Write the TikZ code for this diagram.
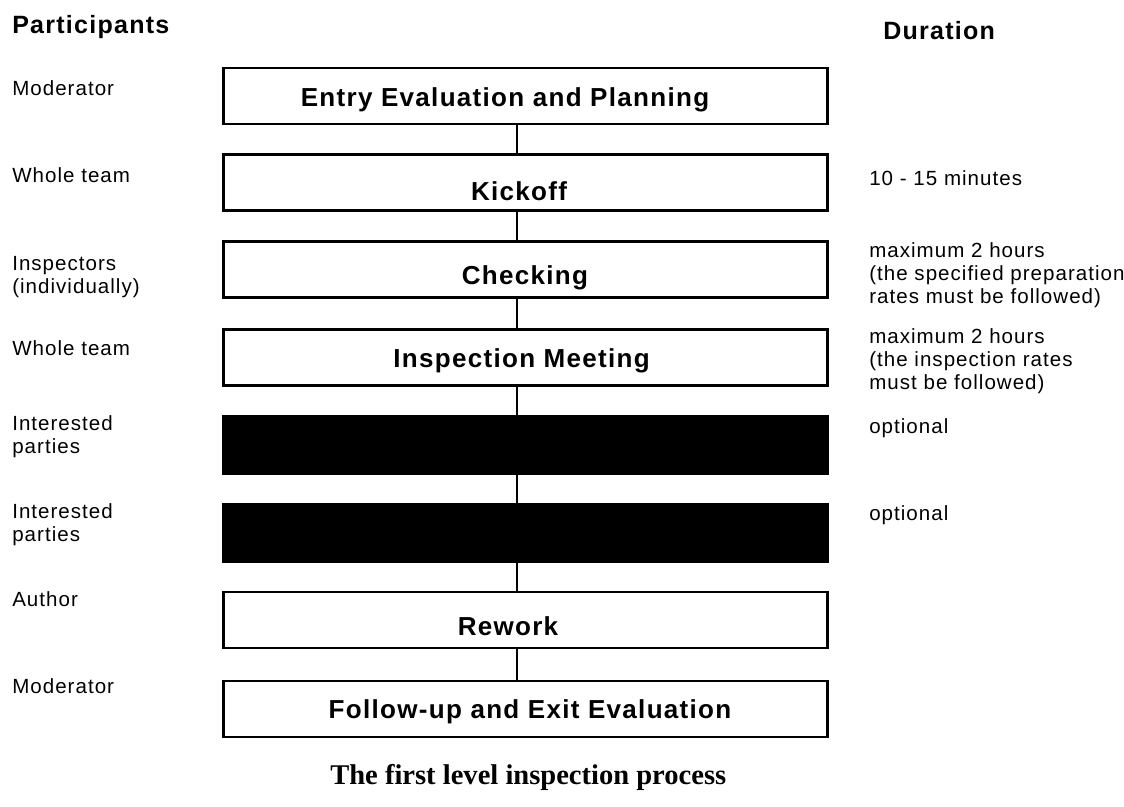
\documentclass[tikz,border=0pt]{standalone}
\usepackage{fontspec}
\setmainfont{Liberation Sans}[LetterSpace=5]
\newfontfamily\captionfont{Liberation Serif}

\tikzset{
    stage/.style={draw, line width=2pt, fill=white, minimum width=15.1cm, minimum height=1.4cm, inner sep=0pt},
    hidden stage/.style={stage, fill=black, minimum height=1.45cm},
    stagetext/.style={font=\fontsize{18.5}{22}\selectfont\bfseries, text height=13.3pt, text depth=0pt, inner sep=0pt},
    heading/.style={font=\fontsize{17.8}{21}\selectfont\bfseries, anchor=base west, inner sep=0pt},
    who/.style={font=\fontsize{14.6}{16.6}\selectfont, align=left, anchor=north west, inner sep=0pt},
    link/.style={line width=2pt},
}

\begin{document}
\begin{tikzpicture}[x=0.025cm, y=-0.025cm]
    \useasboundingbox (0,0) rectangle (1124,807);

    % column heads
    \node[heading] (participants) at (12,34) {Participants};
    \node[heading] (duration) at (883,40) {Duration};

    % the stages, top to bottom
    \node[stage] (entry) at (525.5,96) {};
    \node[stage] (kickoff) at (525.5,182.5) {};
    \node[stage] (checking) at (525.5,269.5) {};
    \node[stage] (meeting) at (525.5,357.5) {};
    \node[hidden stage] (hidden1) at (525.5,445) {};
    \node[hidden stage] (hidden2) at (525.5,533) {};
    \node[stage] (rework) at (525.5,620) {};
    \node[stage] (followup) at (525.5,709) {};

    \node[stagetext] (entrytxt) at (505,97) {Entry Evaluation and Planning};
    \node[stagetext] (kickofftxt) at (519,191) {Kickoff};
    \node[stagetext] (checkingtxt) at (525,275.5) {Checking};
    \node[stagetext] (meetingtxt) at (521.6,358.5) {Inspection Meeting};
    \node[stagetext] (reworktxt) at (508,626.5) {Rework};
    \node[stagetext] (followuptxt) at (530,709) {Follow-up and Exit Evaluation};

    % links between stages
    \draw[link] ([xshift=-6pt]entry.south) -- ([xshift=-6pt]kickoff.north);
    \draw[link] ([xshift=-6pt]kickoff.south) -- ([xshift=-6pt]checking.north);
    \draw[link] ([xshift=-6pt]checking.south) -- ([xshift=-6pt]meeting.north);
    \draw[link] ([xshift=-6pt]meeting.south) -- ([xshift=-6pt]hidden1.north);
    \draw[link] ([xshift=-6pt]hidden1.south) -- ([xshift=-6pt]hidden2.north);
    \draw[link] ([xshift=-6pt]hidden2.south) -- ([xshift=-6pt]rework.north);
    \draw[link] ([xshift=-6pt]rework.south) -- ([xshift=-6pt]followup.north);

    % who takes part
    \node[who] (who1) at (12,80) {Moderator};
    \node[who] (who2) at (12,167) {Whole team};
    \node[who] (who3) at (12,256) {Inspectors\\(individually)};
    \node[who] (who4) at (12,340) {Whole team};
    \node[who] (who5) at (12,415) {Interested\\parties};
    \node[who] (who6) at (12,503) {Interested\\parties};
    \node[who] (who7) at (12,591) {Author};
    \node[who] (who8) at (12,678) {Moderator};

    % how long it takes
    \node[who] (time2) at (869,170) {10 - 15 minutes};
    \node[who] (time3) at (869,242) {maximum 2 hours\\(the specified preparation\\rates must be followed)};
    \node[who] (time4) at (869,328) {maximum 2 hours\\(the inspection rates\\must be followed)};
    \node[who] (time5) at (869,418) {optional};
    \node[who] (time6) at (869,505) {optional};

    \node[anchor=base west, inner sep=0pt, font=\captionfont\fontsize{20.3}{24}\selectfont\bfseries] (caption) at (330,784) {The first level inspection process};
\end{tikzpicture}
\end{document}
